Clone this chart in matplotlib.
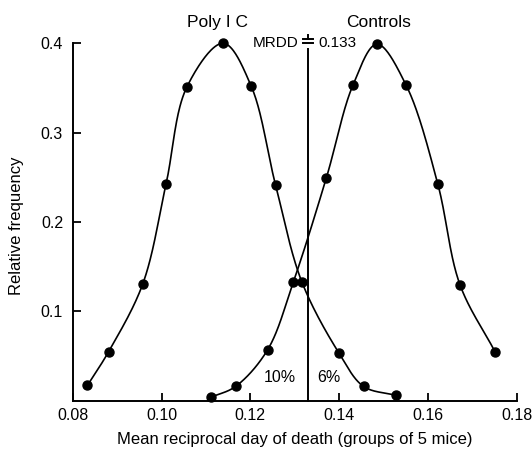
import numpy as np
import matplotlib
matplotlib.use("Agg")
import matplotlib.pyplot as plt

plt.rcParams['font.family'] = ['Liberation Sans', 'DejaVu Sans']

# Data
poly_x = [0.0833, 0.0881, 0.0958, 0.1010, 0.1057, 0.1139, 0.1202, 0.1257, 0.1316, 0.1400, 0.1455, 0.1527]
poly_y = [0.017, 0.055, 0.131, 0.242, 0.351, 0.400, 0.352, 0.241, 0.133, 0.053, 0.016, 0.006]
ctrl_x = [0.1112, 0.1167, 0.1239, 0.1297, 0.1371, 0.1431, 0.1485, 0.1551, 0.1622, 0.1672, 0.1752]
ctrl_y = [0.004, 0.016, 0.057, 0.133, 0.249, 0.353, 0.399, 0.353, 0.243, 0.130, 0.054]
mrdd = 0.133
xticks = [0.08, 0.10, 0.12, 0.14, 0.16, 0.18]
xticklabels = ["0.08", "0.10", "0.12", "0.14", "0.16", "0.18"]
yticks = [0.1, 0.2, 0.3, 0.4]
yticklabels = ["0.1", "0.2", "0.3", "0.4"]


def catmull_rom(x, y, sx=4440.0, sy=893.5, n=40):
    """Centripetal Catmull-Rom curve through the points (computed in pixel-like units)."""
    P = np.column_stack([np.asarray(x, float) * sx, np.asarray(y, float) * sy])
    P = np.vstack([2 * P[0] - P[1], P, 2 * P[-1] - P[-2]])
    out = []
    for i in range(1, len(P) - 2):
        P0, P1, P2, P3 = P[i - 1], P[i], P[i + 1], P[i + 2]
        t0 = 0.0
        t1 = t0 + np.linalg.norm(P1 - P0) ** 0.5
        t2 = t1 + np.linalg.norm(P2 - P1) ** 0.5
        t3 = t2 + np.linalg.norm(P3 - P2) ** 0.5
        t = np.linspace(t1, t2, n)[:, None]
        A1 = (t1 - t) / (t1 - t0) * P0 + (t - t0) / (t1 - t0) * P1
        A2 = (t2 - t) / (t2 - t1) * P1 + (t - t1) / (t2 - t1) * P2
        A3 = (t3 - t) / (t3 - t2) * P2 + (t - t2) / (t3 - t2) * P3
        B1 = (t2 - t) / (t2 - t0) * A1 + (t - t0) / (t2 - t0) * A2
        B2 = (t3 - t) / (t3 - t1) * A2 + (t - t1) / (t3 - t1) * A3
        C = (t2 - t) / (t2 - t1) * B1 + (t - t1) / (t2 - t1) * B2
        out.append(C if i == 1 else C[1:])
    C = np.vstack(out)
    return C[:, 0] / sx, C[:, 1] / sy


fig = plt.figure(figsize=(5.32, 4.5), dpi=100)
ax = fig.add_axes([0.1367, 0.1096, 0.8346, 0.7942])

for xs_, ys_ in [(poly_x, poly_y), (ctrl_x, ctrl_y)]:
    cx, cy = catmull_rom(xs_, ys_)
    ax.plot(cx, cy, color='black', lw=1.2, clip_on=False)
    ax.plot(xs_, ys_, 'o', color='black', ms=6.5, clip_on=False)

# MRDD line and marker
lw_m = 1.4
ax.plot([mrdd, mrdd], [0, 0.394], color='black', lw=lw_m, clip_on=False)
ax.plot([mrdd, mrdd], [0.4045, 0.409], color='black', lw=lw_m, clip_on=False)
ax.plot([mrdd - 0.0011, mrdd + 0.0011], [0.4045, 0.4045], color='black', lw=lw_m, clip_on=False)
ax.plot([mrdd - 0.0011, mrdd + 0.0011], [0.3999, 0.3999], color='black', lw=lw_m, clip_on=False)
ax.text(mrdd - 0.00215, 0.4007, "MRDD", ha='right', va='center', fontsize=11)
ax.text(mrdd + 0.0023, 0.4007, "0.133", ha='left', va='center', fontsize=11)

ax.text(0.1125, 0.4238, "Poly I C", ha='center', va='center', fontsize=12.5)
ax.text(0.1489, 0.4238, "Controls", ha='center', va='center', fontsize=12.5)
ax.text(0.1267, 0.0254, "10%", ha='center', va='center', fontsize=11.5)
ax.text(0.1376, 0.0254, "6%", ha='center', va='center', fontsize=11.5)

ax.set_xlim(0.08, 0.18)
ax.set_ylim(0, 0.4)
ax.set_xticks(xticks)
ax.set_xticklabels(xticklabels)
ax.set_yticks(yticks)
ax.set_yticklabels(yticklabels)
ax.tick_params(direction='in', length=5.5, width=1.3, labelsize=11.5)
ax.tick_params(axis='y', pad=7)
ax.tick_params(axis='x', pad=5.5)
for s in ['top', 'right']:
    ax.spines[s].set_visible(False)
for s in ['left', 'bottom']:
    ax.spines[s].set_linewidth(1.4)

ax.set_xlabel("Mean reciprocal day of death (groups of 5 mice)", fontsize=12)
ax.xaxis.set_label_coords(0.5, -0.108)
ax.xaxis.label.set_verticalalignment('center')
ax.set_ylabel("Relative frequency", fontsize=12)
ax.yaxis.set_label_coords(-0.1261, 0.49)
ax.yaxis.label.set_verticalalignment('center')

fig.savefig("out.png", dpi=100)
